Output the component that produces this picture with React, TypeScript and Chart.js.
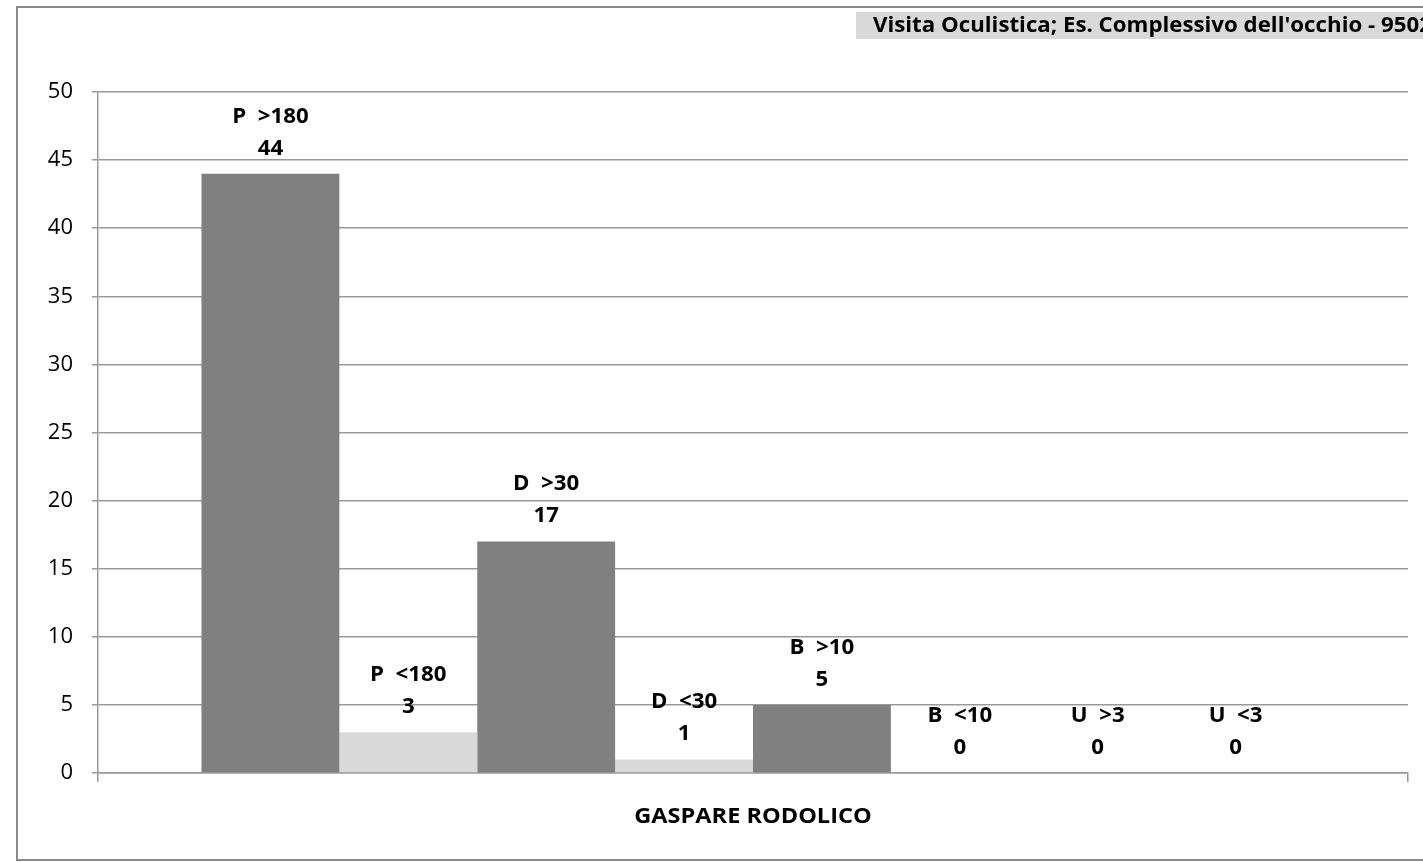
import React, { useEffect, useRef } from "react";
import { Chart, registerables } from "chart.js";

Chart.register(...registerables);

const categories = ["GASPARE RODOLICO"];
const seriesNames = ["P  >180", "P  <180", "D  >30", "D  <30", "B  >10", "B  <10", "U  >3", "U  <3"];
const seriesValues = [44, 3, 17, 1, 5, 0, 0, 0];
const seriesColors = ["#808080", "#d9d9d9", "#808080", "#d9d9d9", "#808080", "#d9d9d9", "#808080", "#d9d9d9"];
const yMin = 0;
const yMax = 50;
const yStep = 5;
const titleText = "Visita Oculistica; Es. Complessivo dell'occhio - 9502";

const W = 1423;
const H = 862;
const FONT = "'Open Sans', 'Liberation Sans', sans-serif";

function drawText(ctx: CanvasRenderingContext2D, text: string, x: number, y: number, font: string, align: CanvasTextAlign, sx: number) {
  ctx.save();
  ctx.font = font;
  ctx.fillStyle = "#000";
  ctx.textBaseline = "middle";
  ctx.textAlign = align;
  ctx.translate(x, y);
  ctx.scale(sx, 1);
  ctx.fillText(text, 0, 0);
  ctx.restore();
}

const decorPlugin = {
  id: "decor",
  beforeDraw(chart: any) {
    const ctx = chart.ctx as CanvasRenderingContext2D;
    ctx.save();
    ctx.fillStyle = "#ffffff";
    ctx.fillRect(0, 0, W, H);
    ctx.strokeStyle = "#8a8a8a";
    ctx.lineWidth = 2;
    ctx.strokeRect(17, 7, W + 20, 853);
    ctx.fillStyle = "#d9d9d9";
    ctx.fillRect(856, 12, W - 856 + 10, 27);
    ctx.restore();
    drawText(ctx, titleText, 873, 26, `bold 21px ${FONT}`, "left", 1.06);
  },
  afterDatasetsDraw(chart: any) {
    const ctx = chart.ctx as CanvasRenderingContext2D;
    chart.data.datasets.forEach((ds: any, i: number) => {
      const meta = chart.getDatasetMeta(i);
      const bar = meta.data[0];
      if (!bar) return;
      const x = bar.x;
      const top = bar.y;
      drawText(ctx, seriesNames[i], x, top - 57, `bold 21px ${FONT}`, "center", 1.06);
      drawText(ctx, String(seriesValues[i]), x, top - 25, `bold 21px ${FONT}`, "center", 1.06);
    });
    const xs = chart.scales.x;
    categories.forEach((c, i) => {
      drawText(ctx, c, xs.getPixelForTick(i), xs.top + 44, `bold 22px ${FONT}`, "center", 1.07);
    });
  },
};

export default function App() {
  const ref = useRef<HTMLCanvasElement>(null);
  useEffect(() => {
    if (!ref.current) return;
    const chart = new Chart(ref.current, {
      type: "bar",
      data: {
        labels: categories,
        datasets: seriesNames.map((n, i) => ({
          label: n,
          data: [seriesValues[i]],
          backgroundColor: seriesColors[i],
          borderWidth: 0,
          categoryPercentage: 0.842,
          barPercentage: 1.0,
        })),
      },
      options: {
        responsive: false,
        animation: false,
        devicePixelRatio: 1,
        layout: { padding: { top: 92, right: 15, left: 0, bottom: 0 } },
        plugins: { legend: { display: false }, tooltip: { enabled: false }, title: { display: false } },
        scales: {
          x: {
            type: "category",
            offset: true,
            grid: { display: true, drawOnChartArea: false, offset: true, tickLength: 9, color: "#999", lineWidth: 1.5 },
            border: { display: true, color: "#999", width: 1.5 },
            ticks: { display: false },
            afterFit: (s: any) => { s.height = 89; },
          },
          y: {
            min: yMin,
            max: yMax,
            ticks: { stepSize: yStep, color: "#000", font: { family: FONT, size: 22 }, padding: 19 },
            grid: { color: "#999", lineWidth: 1.5, tickLength: 6 },
            border: { display: true, color: "#999", width: 1.5 },
            afterFit: (s: any) => { s.width = 98; },
          },
        },
      },
      plugins: [decorPlugin],
    });
    return () => chart.destroy();
  }, []);
  return (
    <div style={{ position: "fixed", left: 0, top: 0, width: W, height: H, background: "#fff" }}>
      <canvas ref={ref} width={W} height={H} style={{ display: "block", width: W, height: H }} />
    </div>
  );
}
